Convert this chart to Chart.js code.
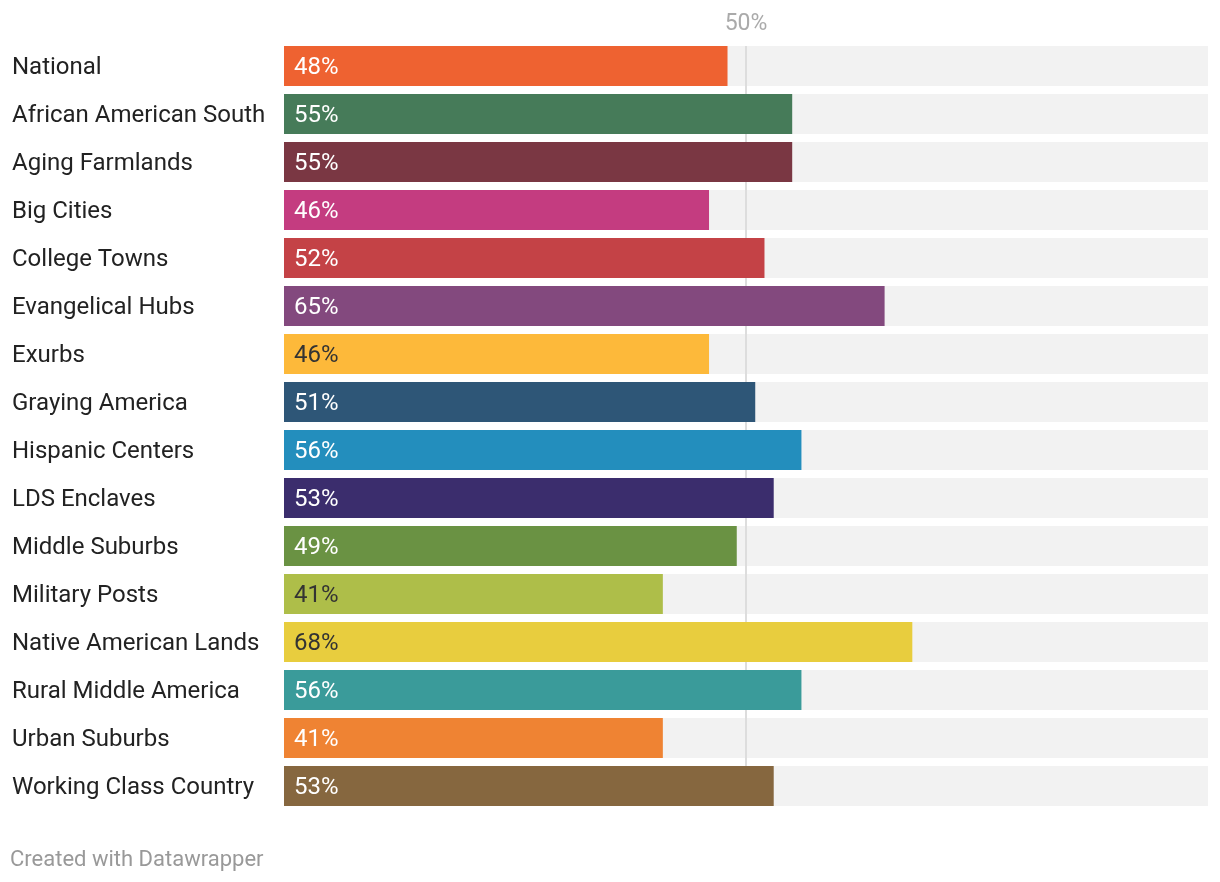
<!DOCTYPE html>
<html>
<head>
<meta charset="utf-8">
<script src="https://cdn.jsdelivr.net/npm/chart.js@4.4.1/dist/chart.umd.min.js"></script>
<style>
  html, body { margin: 0; padding: 0; background: #fff; }
  #wrap { position: relative; width: 1220px; height: 882px; }
  #footer { position: absolute; left: 10px; top: 846px; font-family: Roboto, sans-serif; font-size: 22px; color: #999; }
</style>
</head>
<body>
<div id="wrap">
  <canvas id="c" width="1220" height="882"></canvas>
  <div id="footer">Created with Datawrapper</div>
</div>
<script>
const categories = [
  "National", "African American South", "Aging Farmlands", "Big Cities",
  "College Towns", "Evangelical Hubs", "Exurbs", "Graying America",
  "Hispanic Centers", "LDS Enclaves", "Middle Suburbs", "Military Posts",
  "Native American Lands", "Rural Middle America", "Urban Suburbs", "Working Class Country"
];
const values = [48, 55, 55, 46, 52, 65, 46, 51, 56, 53, 49, 41, 68, 56, 41, 53];
const tickValues = [50];
const axisMax = 100;

const barColors = [
  "#ee6231", "#467b59", "#7a3743", "#c43c80",
  "#c44246", "#83497e", "#fdb93a", "#2e5677",
  "#238ebd", "#3b2d6d", "#6a9243", "#aebe49",
  "#e8cd3e", "#3a9b9a", "#ef8333", "#86673f"
];
const darkLabel = [false, false, false, false, false, false, true, false, false, false, false, true, true, false, false, false];

const trackData = categories.map(() => axisMax);

const refLinePlugin = {
  id: 'refLine',
  afterDatasetDraw(chart, args) {
    if (args.index !== 1) return;
    const ctx = chart.ctx;
    const x = chart.scales.x.getPixelForValue(tickValues[0]);
    const yScale = chart.scales.y;
    const half = (yScale.getPixelForValue(1) - yScale.getPixelForValue(0)) * 0.8333 / 2;
    const top = yScale.getPixelForValue(0) - half;
    const bottom = yScale.getPixelForValue(categories.length - 1) + half;
    ctx.save();
    ctx.strokeStyle = '#dddddd';
    ctx.lineWidth = 2;
    ctx.beginPath();
    ctx.moveTo(x, top);
    ctx.lineTo(x, bottom);
    ctx.stroke();
    ctx.restore();
  }
};

const valueLabelPlugin = {
  id: 'valueLabels',
  afterDatasetsDraw(chart) {
    const ctx = chart.ctx;
    const meta = chart.getDatasetMeta(0);
    ctx.save();
    ctx.font = '24px Roboto';
    ctx.textAlign = 'left';
    ctx.textBaseline = 'middle';
    meta.data.forEach((bar, i) => {
      ctx.fillStyle = darkLabel[i] ? '#333333' : '#ffffff';
      ctx.fillText(values[i] + '%', bar.base + 10, bar.y + 2);
    });
    ctx.restore();
  }
};

new Chart(document.getElementById('c'), {
  type: 'bar',
  data: {
    labels: categories,
    datasets: [
      {
        data: values,
        backgroundColor: barColors,
        grouped: false,
        order: 0,
        barPercentage: 1,
        categoryPercentage: 0.8333
      },
      {
        data: trackData,
        backgroundColor: '#f2f2f2',
        grouped: false,
        order: 1,
        barPercentage: 1,
        categoryPercentage: 0.8333
      }
    ]
  },
  options: {
    indexAxis: 'y',
    responsive: false,
    animation: false,
    layout: { padding: { left: 12, right: 12, top: 0, bottom: 72 } },
    plugins: { legend: { display: false }, tooltip: { enabled: false } },
    scales: {
      x: {
        position: 'top',
        min: 0,
        max: axisMax,
        grid: { display: false, drawTicks: false },
        border: { display: false },
        afterBuildTicks(axis) { axis.ticks = tickValues.map(v => ({ value: v })); },
        afterFit(axis) { axis.height = 42; },
        ticks: {
          padding: 4,
          color: '#aaaaaa',
          font: { family: 'Roboto', size: 23 },
          callback: (v) => v + '%'
        }
      },
      y: {
        grid: { display: false, drawTicks: false },
        border: { display: false },
        afterFit(axis) { axis.width = 272; },
        ticks: {
          crossAlign: 'far',
          color: '#222222',
          font: { family: 'Roboto', size: 24 },
          padding: 0,
          labelOffset: 2
        }
      }
    }
  },
  plugins: [refLinePlugin, valueLabelPlugin]
});
</script>
</body>
</html>
